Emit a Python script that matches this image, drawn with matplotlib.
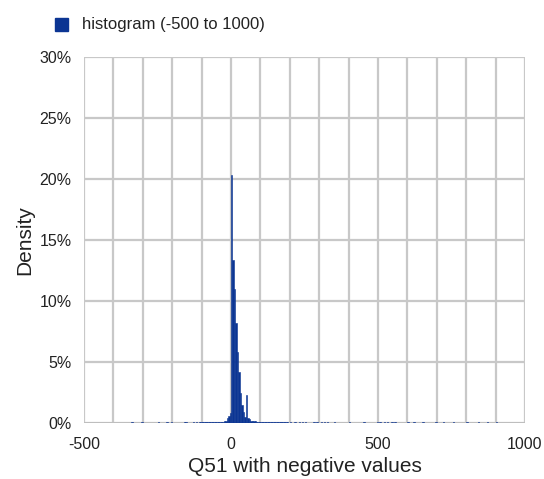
import matplotlib.pyplot as plt
from matplotlib.ticker import MultipleLocator, FuncFormatter
from matplotlib.patches import Rectangle

plt.rcParams['font.family'] = ['Liberation Sans', 'DejaVu Sans']
plt.rcParams['axes.unicode_minus'] = False

BIN_WIDTH = 5

# left edge of each non-empty bin and its density in percent
bin_left = [-340, -305, -250, -220, -205, -160, -155, -130, -120,
            -110, -105, -100, -95, -90, -85, -80, -75, -70, -65, -60,
            -55, -50, -45, -40, -35, -30, -25, -20,
            -15, -10, -5, 0, 5, 10, 15, 20, 25, 30, 35, 40, 45,
            50, 55, 60, 65, 70, 75, 80, 85, 90, 95, 100, 105, 110,
            115, 120, 125, 130, 135, 140, 145, 150, 155, 160, 165, 170,
            175, 180, 185,
            190, 200, 215, 230, 240, 250, 280, 290, 305, 315, 325, 350,
            400, 450, 495, 505, 520, 530, 545, 555, 600, 620, 650, 695,
            720, 755, 800, 840, 870, 900]
density = [0.1, 0.1, 0.1, 0.1, 0.1, 0.1, 0.1, 0.1, 0.1,
           0.1, 0.1, 0.1, 0.1, 0.1, 0.1, 0.1, 0.1, 0.1, 0.1, 0.1,
           0.1, 0.1, 0.1, 0.1, 0.1, 0.1, 0.15, 0.15,
           0.4, 0.6, 0.8, 20.3, 13.4, 11.0, 8.2, 5.8, 4.2, 2.5, 1.5, 0.9, 0.5,
           2.3, 0.4, 0.3, 0.2, 0.2, 0.15, 0.15, 0.1, 0.1, 0.1, 0.1, 0.1, 0.1,
           0.1, 0.1, 0.1, 0.1, 0.1, 0.1, 0.1, 0.1, 0.1, 0.1, 0.1, 0.1,
           0.1, 0.1, 0.1,
           0.1, 0.1, 0.1, 0.1, 0.1, 0.1, 0.1, 0.1, 0.1, 0.1, 0.1, 0.1,
           0.1, 0.1, 0.1, 0.1, 0.1, 0.1, 0.1, 0.1, 0.1, 0.1, 0.1, 0.1,
           0.1, 0.1, 0.1, 0.1, 0.1, 0.1]

bar_color = '#0b3593'
grid_color = '#c8c8c8'
text_color = '#222222'

fig = plt.figure(figsize=(5.44, 4.79), dpi=100)
ax = fig.add_axes([84 / 544, 1 - 423 / 479, 441 / 544, 366 / 479])

ax.bar(bin_left, density, width=BIN_WIDTH, align='edge', color=bar_color,
       edgecolor=bar_color, linewidth=0.4, zorder=3)

ax.set_xlim(-500, 1000)
ax.set_ylim(0, 30)
ax.xaxis.set_major_locator(MultipleLocator(500))
ax.xaxis.set_minor_locator(MultipleLocator(100))
ax.yaxis.set_major_locator(MultipleLocator(5))
ax.yaxis.set_major_formatter(FuncFormatter(lambda v, p: f'{v:.0f}%'))
ax.grid(True, which='both', axis='x', color=grid_color, linewidth=1.6, zorder=0)
ax.grid(True, which='major', axis='y', color=grid_color, linewidth=1.6, zorder=0)
for s in ax.spines.values():
    s.set_visible(False)
ax.axhline(0, color='#bdbdbd', linewidth=2, zorder=2)
ax.tick_params(which='both', length=0, labelsize=11.5, colors=text_color)
ax.tick_params(axis='y', pad=9)
ax.tick_params(axis='x', pad=10)

ax.set_xlabel('Q51 with negative values', fontsize=15, labelpad=4, color=text_color)
ax.set_ylabel('Density', fontsize=15, labelpad=4, color=text_color)

# legend swatch and text
fig.patches.append(Rectangle((55 / 544, 1 - 31 / 479), 13 / 544, 13 / 479,
                             transform=fig.transFigure, color=bar_color))
fig.text(82 / 544, 1 - 24.5 / 479, 'histogram (-500 to 1000)', fontsize=12,
         va='center', ha='left', color=text_color)

fig.savefig('out.png', dpi=100)
